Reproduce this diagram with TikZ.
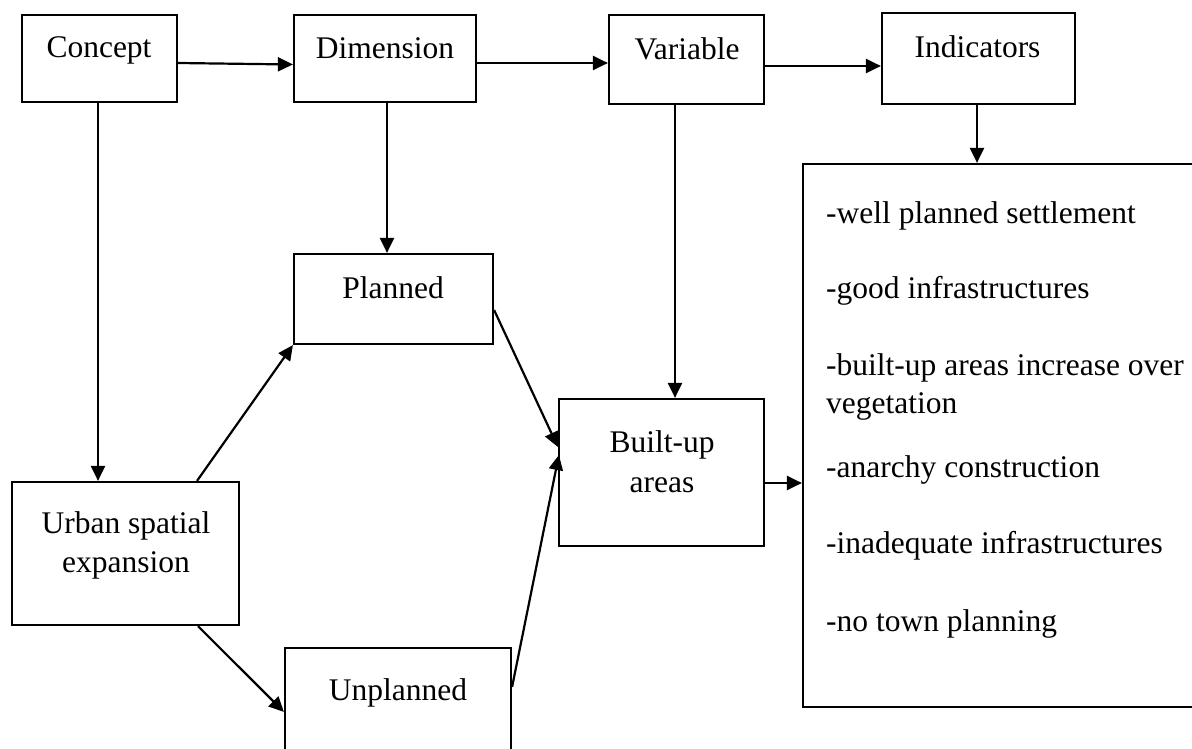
\documentclass[tikz,border=0pt]{standalone}
\usepackage{fontspec}
\setmainfont{Liberation Serif}
\usetikzlibrary{arrows.meta,calc}
\begin{document}
\begin{tikzpicture}[x=1pt,y=-1pt,
  box/.style={draw, line width=2.2pt, inner sep=0pt, rectangle},
  txt/.style={font=\fontsize{31.5}{39}\selectfont, anchor=base, inner sep=0pt},
  ltxt/.style={font=\fontsize{31.5}{39}\selectfont, anchor=base west, inner sep=0pt},
  arr/.style={line width=2.2pt, -{Triangle[length=15pt,width=14pt]}}]
\useasboundingbox (0,0) rectangle (1192,749);
% boxes
\node[box, minimum width=155pt, minimum height=87pt] (concept) at (99.5,58.5) {};
\node[box, minimum width=182pt, minimum height=87pt] (dimension) at (385,58.5) {};
\node[box, minimum width=155pt, minimum height=89pt] (variable) at (686.5,59.5) {};
\node[box, minimum width=193pt, minimum height=91pt] (indicators) at (978.5,58.5) {};
\node[box, minimum width=199pt, minimum height=90pt] (planned) at (393.5,299) {};
\node[box, minimum width=205pt, minimum height=147pt] (builtup) at (661.5,472.5) {};
\node[box, minimum width=227pt, minimum height=143pt] (urban) at (125.5,553.5) {};
\node[box, minimum width=226pt, minimum height=152pt] (unplanned) at (398,724) {};
\node[box, minimum width=391pt, minimum height=543pt] (list) at (998.5,435.5) {};
% texts
\node[txt] (tconcept) at (99,58) {Concept};
\node[txt] (tdimension) at (385,59) {Dimension};
\node[txt] (tvariable) at (687,60) {Variable};
\node[txt] (tindicators) at (977.5,58) {Indicators};
\node[txt] (tplanned) at (393,298) {Planned};
\node[txt] (tbuilt1) at (662,452) {Built-up};
\node[txt] (tbuilt2) at (662,492) {areas};
\node[txt] (turban1) at (126,533) {Urban spatial};
\node[txt] (turban2) at (126,572) {expansion};
\node[txt] (tunplanned) at (398,700) {Unplanned};
\node[ltxt] (l1) at (826,223) {-well planned settlement};
\node[ltxt] (l2) at (826,298) {-good infrastructures};
\node[ltxt] (l3) at (826,375) {-built-up areas increase over};
\node[ltxt] (l4) at (826,413) {vegetation};
\node[ltxt] (l5) at (826,477) {-anarchy construction};
\node[ltxt] (l6) at (826,553) {-inadequate infrastructures};
\node[ltxt] (l7) at (826,631) {-no town planning};
% connectors
\draw[arr] ([yshift=-4.5pt]concept.east) -- ([yshift=-6pt]dimension.west);
\draw[arr] ([yshift=-4.5pt]dimension.east) -- ([yshift=-3.5pt]variable.west);
\draw[arr] ([yshift=-6.5pt]variable.east) -- ([yshift=-7.5pt]indicators.west);
\draw[arr] ([xshift=-1.5pt]concept.south) -- ([xshift=-1.5pt]concept.south |- urban.north);
\draw[arr] ([xshift=2pt]dimension.south) -- ([xshift=2pt]dimension.south |- planned.north);
\draw[arr] ([xshift=-11.5pt]variable.south) -- ([xshift=-11.5pt]variable.south |- builtup.north);
\draw[arr] ([xshift=-1.5pt]indicators.south) -- ([xshift=-1.5pt]indicators.south |- list.north);
\draw[arr] ([xshift=71.5pt]urban.north) -- (planned.south west);
\draw[arr] ([xshift=72.5pt]urban.south) -- ([yshift=-65pt]unplanned.north west);
\draw[arr] ([yshift=-11pt]planned.east) -- ([yshift=25.5pt]builtup.west);
\draw[arr] ([yshift=-40pt]unplanned.north east) -- ([xshift=1pt,yshift=17.5pt]builtup.west);
\draw[arr] ([yshift=-10.5pt]builtup.east) -- ([yshift=-10.5pt]builtup.east -| list.west);
\end{tikzpicture}
\end{document}
